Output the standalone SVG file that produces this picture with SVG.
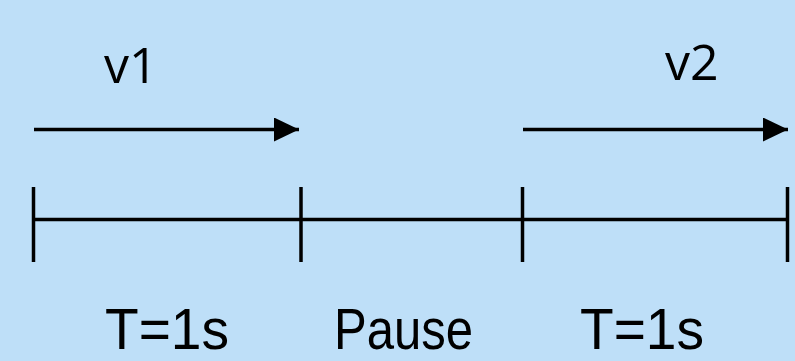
<svg xmlns="http://www.w3.org/2000/svg" width="795" height="361" viewBox="0 0 795 361">
  <style>
    .ln { stroke: #000; stroke-width: 3.5; fill: none; }
    .tk { stroke: #000; stroke-width: 3.5; fill: none; }
    .lbl { font-family: "Open Sans", "Liberation Sans", sans-serif; fill: #000; }
    .big { font-family: "Liberation Sans", "Open Sans", sans-serif; font-size: 57px; }
    .v { font-size: 50px; }
  </style>
  <defs>
    <marker id="ah" markerUnits="userSpaceOnUse" markerWidth="26" markerHeight="26" refX="25" refY="12" orient="auto" viewBox="0 0 26 26">
      <path d="M0,0 L25,12 L0,24 Z" fill="#000"/>
    </marker>
  </defs>
  <rect x="0" y="0" width="795" height="361" fill="#BEDFF8"/>
  <g id="connectors">
    <line id="arrow-v1" class="ln" x1="34" y1="129.5" x2="299" y2="129.5" marker-end="url(#ah)"/>
    <line id="arrow-v2" class="ln" x1="523" y1="129.5" x2="788" y2="129.5" marker-end="url(#ah)"/>
  </g>
  <g id="timeline">
    <line class="ln" x1="33.5" y1="219.5" x2="787.5" y2="219.5"/>
    <line class="tk" x1="33.5" y1="187" x2="33.5" y2="262"/>
    <line class="tk" x1="301" y1="187" x2="301" y2="262"/>
    <line class="tk" x1="522.5" y1="187" x2="522.5" y2="262"/>
    <line class="tk" x1="787.5" y1="187" x2="787.5" y2="262"/>
  </g>
  <g id="label-v1"><text class="lbl v" x="104" y="83">v1</text></g>
  <g id="label-v2"><text class="lbl v" x="665" y="80">v2</text></g>
  <g id="segment-1"><text class="lbl big" x="105" y="348.5" textLength="124" lengthAdjust="spacingAndGlyphs">T=1s</text></g>
  <g id="segment-pause"><text class="lbl big" x="334" y="348.5" textLength="139" lengthAdjust="spacingAndGlyphs">Pause</text></g>
  <g id="segment-2"><text class="lbl big" x="580" y="348.5" textLength="124" lengthAdjust="spacingAndGlyphs">T=1s</text></g>
</svg>
